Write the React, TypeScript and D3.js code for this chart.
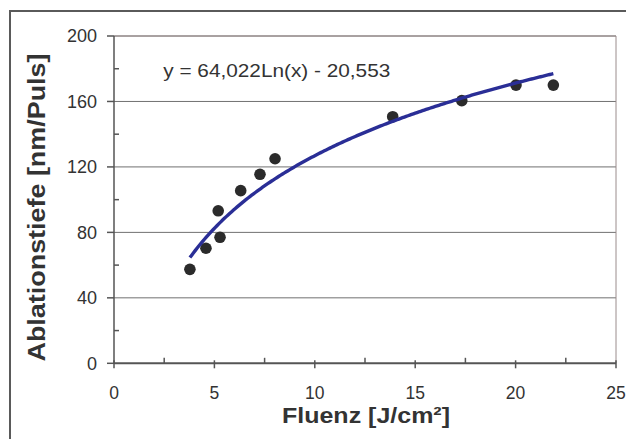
import React from "react";
import * as d3 from "d3";

const fluence = [3.78, 4.58, 5.28, 5.19, 6.31, 7.27, 8.02, 13.88, 17.32, 20.02, 21.88];
const depth = [57.4, 70.3, 77, 93.2, 105.5, 115.5, 125, 150.7, 160.5, 170, 170];
const xTicks = [0, 5, 10, 15, 20, 25];
const xMinorTicks = [2.5, 7.5, 12.5, 17.5, 22.5];
const yTicks = [0, 40, 80, 120, 160, 200];
const yMinorTicks = [20, 60, 100, 140, 180];
const trendA = 64.022;
const trendB = -20.553;
const equationLabel = "y = 64,022Ln(x) - 20,553";
const xTitle = "Fluenz [J/cm²]";
const yTitle = "Ablationstiefe [nm/Puls]";

const W = 626;
const H = 439;
const L = 114, R = 616, T = 36, B = 363.3;
const FONT = "'Liberation Sans', Arial, Helvetica, sans-serif";

export default function App() {
  const x = d3.scaleLinear().domain([0, 25]).range([L, R]);
  const y = d3.scaleLinear().domain([0, 200]).range([B, T]);

  const xmin = d3.min(fluence) as number;
  const xmax = d3.max(fluence) as number;
  const trendXs = d3.range(0, 201).map((i) => xmin + ((xmax - xmin) * i) / 200);
  const line = d3
    .line<number>()
    .x((d) => x(d))
    .y((d) => y(trendA * Math.log(d) + trendB))
    .curve(d3.curveLinear);

  return (
    <div style={{ position: "fixed", left: 0, top: 0 }}>
      <svg width={W} height={H} style={{ display: "block", background: "#fff" }}>
        {/* outer frame */}
        <rect x={10} y={11} width={700} height={600} fill="#fff" stroke="#5a5a5a" strokeWidth={2} />
        {/* gridlines */}
        {yTicks.filter((t) => t > 0).map((t) => (
          <line key={"g" + t} x1={L} x2={R} y1={y(t)} y2={y(t)} stroke="#707070" strokeWidth={1} />
        ))}
        {/* plot area border */}
        <line x1={R} x2={R} y1={T} y2={B} stroke="#9a8c8c" strokeWidth={1} />
        <line x1={L} x2={R} y1={T} y2={T} stroke="#9a8c8c" strokeWidth={1} />
        {/* axes */}
        <line x1={L} x2={L} y1={T} y2={B} stroke="#555" strokeWidth={1.5} />
        <line x1={L} x2={R} y1={B} y2={B} stroke="#555" strokeWidth={2} />
        {yTicks.map((t) => (
          <line key={"yt" + t} x1={L - 7} x2={L} y1={y(t)} y2={y(t)} stroke="#555" strokeWidth={1.5} />
        ))}
        {yMinorTicks.map((t) => (
          <line key={"ym" + t} x1={L} x2={L + 5} y1={y(t)} y2={y(t)} stroke="#555" strokeWidth={1.5} />
        ))}
        {xTicks.map((t) => (
          <line key={"xt" + t} x1={x(t)} x2={x(t)} y1={B - 3} y2={B + 5} stroke="#555" strokeWidth={1.5} />
        ))}
        {xMinorTicks.map((t) => (
          <line key={"xm" + t} x1={x(t)} x2={x(t)} y1={B - 5.5} y2={B} stroke="#555" strokeWidth={1.5} />
        ))}
        {/* tick labels */}
        {yTicks.map((t) => (
          <text key={"yl" + t} x={97} y={y(t) + 6.4} textAnchor="end" fontFamily={FONT} fontSize={18} fill="#333">
            {t}
          </text>
        ))}
        {xTicks.map((t) => (
          <text key={"xl" + t} x={x(t)} y={398.5} textAnchor="middle" fontFamily={FONT} fontSize={17.5} fill="#333">
            {t}
          </text>
        ))}
        {/* points */}
        {fluence.map((f, i) => (
          <circle key={"p" + i} cx={x(f)} cy={y(depth[i])} r={5.8} fill="#2b2b2b" />
        ))}
        {/* trend line */}
        <path d={line(trendXs) || ""} fill="none" stroke="#2a2e96" strokeWidth={3.4} strokeLinejoin="round" />
        {/* equation */}
        <text x={163.3} y={77.3} fontFamily={FONT} fontSize={19} fill="#333" textLength={227} lengthAdjust="spacingAndGlyphs">
          {equationLabel}
        </text>
        {/* axis titles */}
        <text x={366} y={423} textAnchor="middle" fontFamily={FONT} fontSize={22} fontWeight="bold" fill="#333" textLength={168} lengthAdjust="spacingAndGlyphs">
          {xTitle}
        </text>
        <text
          transform={`translate(45, 207.5) rotate(-90)`}
          textAnchor="middle"
          fontFamily={FONT}
          fontSize={23.5}
          fontWeight="bold"
          fill="#333"
          textLength={308}
          lengthAdjust="spacingAndGlyphs"
        >
          {yTitle}
        </text>
      </svg>
    </div>
  );
}
